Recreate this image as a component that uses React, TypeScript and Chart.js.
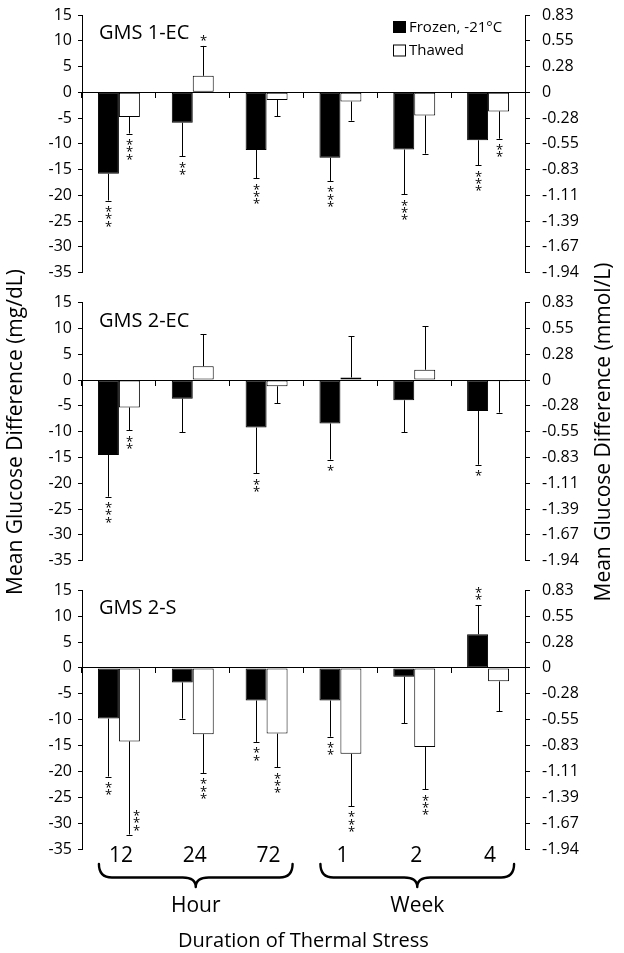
import React, { useEffect, useRef } from 'react';
import { Chart, registerables } from 'chart.js';

Chart.register(...registerables);

// ---------- data ----------
const categories = ['12', '24', '72', '1', '2', '4'];
const groupLabels = ['Hour', 'Week'];
const groupFirst = [0, 3];
const groupLast = [2, 5];
const seriesNames = ['Frozen, -21°C', 'Thawed'];
const panelTitles = ['GMS 1-EC', 'GMS 2-EC', 'GMS 2-S'];
const yTickValues = [15, 10, 5, 0, -5, -10, -15, -20, -25, -30, -35];
const mmolTickLabels = ['0.83', '0.55', '0.28', '0', '-0.28', '-0.55', '-0.83', '-1.11', '-1.39', '-1.67', '-1.94'];
const leftTitle = 'Mean Glucose Difference (mg/dL)';
const rightTitle = 'Mean Glucose Difference (mmol/L)';
const xTitle = 'Duration of Thermal Stress';

const gms1FrozenMean = [-15.8, -5.9, -11.2, -12.7, -11.1, -9.3];
const gms1FrozenSd = [5.2, 6.5, 5.5, 4.5, 8.7, 4.9];
const gms1FrozenSig = ['***', '**', '***', '***', '***', '***'];
const gms1ThawedMean = [-4.8, 3.2, -1.5, -1.8, -4.5, -3.7];
const gms1ThawedSd = [3.2, 5.8, 3.1, 3.7, 7.4, 5.3];
const gms1ThawedSig = ['***', '*', '', '', '', '**'];

const gms2ecFrozenMean = [-14.5, -3.6, -9.2, -8.4, -3.9, -6.0];
const gms2ecFrozenSd = [8.1, 6.5, 8.9, 7.0, 6.2, 10.4];
const gms2ecFrozenSig = ['***', '', '**', '*', '', '*'];
const gms2ecThawedMean = [-5.3, 2.7, -1.2, 0.5, 2.0, -0.2];
const gms2ecThawedSd = [4.4, 6.2, 3.3, 8.0, 8.4, 6.1];
const gms2ecThawedSig = ['**', '', '', '', '', ''];

const gms2sFrozenMean = [-9.8, -2.8, -6.3, -6.3, -1.7, 6.5];
const gms2sFrozenSd = [11.2, 7.0, 8.0, 7.0, 9.0, 5.6];
const gms2sFrozenSig = ['**', '', '**', '**', '', '**'];
const gms2sThawedMean = [-14.2, -12.8, -12.7, -16.6, -15.3, -2.6];
const gms2sThawedSd = [18.0, 7.5, 6.5, 10.1, 8.2, 5.8];
const gms2sThawedSig = ['***', '***', '***', '***', '***', ''];

const panelFrozen = [
  [gms1FrozenMean, gms1FrozenSd, gms1FrozenSig],
  [gms2ecFrozenMean, gms2ecFrozenSd, gms2ecFrozenSig],
  [gms2sFrozenMean, gms2sFrozenSd, gms2sFrozenSig],
];
const panelThawed = [
  [gms1ThawedMean, gms1ThawedSd, gms1ThawedSig],
  [gms2ecThawedMean, gms2ecThawedSd, gms2ecThawedSig],
  [gms2sThawedMean, gms2sThawedSd, gms2sThawedSig],
];

// ---------- layout ----------
const W = 624;
const H = 953;
const FONT = '"Open Sans", "Noto Sans", sans-serif';
const plotTops = [15, 302.7, 590.3];
const plotBottoms = [272.7, 560.7, 849];

const errPlugin = {
  id: 'errbars',
  afterDatasetsDraw(chart: any) {
    const ctx = chart.ctx;
    const ys = chart.scales.y;
    const ca = chart.chartArea;
    chart.data.datasets.forEach((ds: any, i: number) => {
      const meta = chart.getDatasetMeta(i);
      meta.data.forEach((bar: any, j: number) => {
        const v = ds.data[j];
        const sd = ds.sd[j];
        const dir = v >= 0 ? 1 : -1;
        const yEnd = ys.getPixelForValue(v + dir * sd);
        const x = Math.round(bar.x) + 0.5;
        ctx.save();
        ctx.strokeStyle = '#000';
        ctx.lineWidth = 1;
        ctx.beginPath();
        ctx.moveTo(x, bar.y);
        ctx.lineTo(x, yEnd);
        ctx.moveTo(x - 3, Math.round(yEnd) + 0.5);
        ctx.lineTo(x + 3, Math.round(yEnd) + 0.5);
        ctx.stroke();
        const s: string = ds.sig[j];
        ctx.font = `13px ${FONT}`;
        ctx.fillStyle = '#000';
        ctx.textAlign = 'center';
        ctx.textBaseline = 'alphabetic';
        const m = ctx.measureText('*');
        const off = (m.actualBoundingBoxAscent - m.actualBoundingBoxDescent) / 2;
        const n = s.length;
        const extent = yEnd - dir * (8.4 + (n - 1) * 7.3 + 3.5);
        const beside = n > 0 && (extent > ca.bottom || extent < ca.top - 20);
        for (let k = 0; k < n; k++) {
          if (beside) {
            const cy = yEnd + dir * (7 + (n - 1 - k) * 7.3);
            ctx.fillText('*', x + 7, cy + off);
          } else {
            const cy = yEnd - dir * (8.4 + k * 7.3);
            ctx.fillText('*', x, cy + off);
          }
        }
        ctx.restore();
      });
    });
  },
};

function makeDecor(p: number) {
  return {
    id: 'decor' + p,
    afterDraw(chart: any) {
      const ctx = chart.ctx;
      const ca = chart.chartArea;
      ctx.save();
      ctx.fillStyle = '#000';
      ctx.strokeStyle = '#000';
      // panel title
      ctx.font = `20px ${FONT}`;
      ctx.textAlign = 'left';
      ctx.textBaseline = 'alphabetic';
      ctx.fillText(panelTitles[p], ca.left + 17, ca.top + 24);

      if (p === 0) {
        // legend
        ctx.font = `15px ${FONT}`;
        chart.data.datasets.forEach((ds: any, i: number) => {
          const by = ca.top + 6 + i * 23.5;
          const bx = ca.right - 132;
          ctx.fillStyle = ds.backgroundColor;
          ctx.fillRect(bx, by, 13, 12);
          ctx.lineWidth = 1;
          ctx.strokeStyle = '#000';
          ctx.strokeRect(bx + 0.5, by + 0.5, 12, 11);
          ctx.fillStyle = '#000';
          ctx.textBaseline = 'middle';
          ctx.fillText(ds.label, bx + 16, by + 6.5);
        });
      }

      if (p === 1) {
        ctx.font = `21px ${FONT}`;
        ctx.textAlign = 'center';
        ctx.textBaseline = 'alphabetic';
        ctx.save();
        ctx.translate(21.7, 432);
        ctx.rotate(-Math.PI / 2);
        ctx.fillText(leftTitle, 0, 0);
        ctx.restore();
        ctx.save();
        ctx.translate(610, 432);
        ctx.rotate(-Math.PI / 2);
        ctx.fillText(rightTitle, 0, 0);
        ctx.restore();
      }

      if (p === 2) {
        const xs = chart.scales.x;
        ctx.textAlign = 'center';
        ctx.textBaseline = 'alphabetic';
        ctx.font = `21px ${FONT}`;
        categories.forEach((c, i) => {
          ctx.fillText(c, xs.getPixelForValue(i) + 2, ca.bottom + 12.7);
        });
        // braces
        ctx.lineWidth = 2.4;
        ctx.lineJoin = 'round';
        ctx.lineCap = 'round';
        groupLabels.forEach((g, gi) => {
          const x1 = xs.getPixelForValue(groupFirst[gi]) - 20;
          const x2 = xs.getPixelForValue(groupLast[gi]) + 26;
          const xm = (x1 + x2) / 2;
          const yT = ca.bottom + 15;
          const yM = ca.bottom + 28.5;
          const yB = ca.bottom + 38;
          const r = 13;
          ctx.beginPath();
          ctx.moveTo(x1, yT);
          ctx.quadraticCurveTo(x1, yM, x1 + r, yM);
          ctx.lineTo(xm - r, yM);
          ctx.quadraticCurveTo(xm, yM, xm, yB);
          ctx.quadraticCurveTo(xm, yM, xm + r, yM);
          ctx.lineTo(x2 - r, yM);
          ctx.quadraticCurveTo(x2, yM, x2, yT);
          ctx.stroke();
          ctx.fillText(g, xm, ca.bottom + 62.7);
        });
        ctx.font = `20px ${FONT}`;
        ctx.fillText(xTitle, (ca.left + ca.right) / 2, ca.bottom + 97.7);
      }
      ctx.restore();
    },
  };
}

function makeConfig(p: number): any {
  const fr = panelFrozen[p];
  const th = panelThawed[p];
  const tickFont = { family: FONT, size: 16 };
  return {
    type: 'bar',
    data: {
      labels: categories,
      datasets: [
        {
          label: seriesNames[0],
          data: fr[0],
          sd: fr[1],
          sig: fr[2],
          backgroundColor: '#000000',
          borderColor: '#000000',
          borderWidth: 1,
          borderSkipped: false,
          categoryPercentage: 0.568,
          barPercentage: 1,
        },
        {
          label: seriesNames[1],
          data: th[0],
          sd: th[1],
          sig: th[2],
          backgroundColor: '#ffffff',
          borderColor: '#000000',
          borderWidth: 1,
          borderSkipped: false,
          categoryPercentage: 0.568,
          barPercentage: 1,
        },
      ],
    },
    options: {
      responsive: false,
      animation: false,
      events: [],
      layout: { padding: { top: plotTops[p], bottom: H - plotBottoms[p], left: 0, right: 0 } },
      plugins: { legend: { display: false }, tooltip: { enabled: false } },
      scales: {
        x: {
          type: 'category',
          position: { y: 0 },
          offset: true,
          grid: { offset: true, drawOnChartArea: false, drawTicks: true, tickLength: 5, color: '#000', lineWidth: 1 },
          border: { display: true, color: '#000', width: 1 },
          ticks: { display: false },
        },
        y: {
          position: 'left',
          min: -35,
          max: 15,
          afterBuildTicks: (s: any) => {
            s.ticks = yTickValues.map((v) => ({ value: v }));
          },
          ticks: { font: tickFont, color: '#000', padding: 6 },
          grid: { drawOnChartArea: false, tickLength: 4, color: '#000' },
          border: { color: '#000', width: 1 },
          afterFit: (s: any) => {
            s.width = 82;
            s.paddingTop = 0;
            s.paddingBottom = 0;
          },
        },
        y2: {
          position: 'right',
          min: -35,
          max: 15,
          afterBuildTicks: (s: any) => {
            s.ticks = yTickValues.map((v) => ({ value: v }));
          },
          ticks: {
            font: tickFont,
            color: '#000',
            padding: 12,
            callback: (v: number) => mmolTickLabels[yTickValues.indexOf(v)],
          },
          grid: { drawOnChartArea: false, tickLength: 5, color: '#000' },
          border: { color: '#000', width: 1 },
          afterFit: (s: any) => {
            s.width = 99;
            s.paddingTop = 0;
            s.paddingBottom = 0;
          },
        },
      },
    },
    plugins: [errPlugin, makeDecor(p)],
  };
}

export default function App() {
  const refs = useRef<(HTMLCanvasElement | null)[]>([]);
  useEffect(() => {
    const charts = [0, 1, 2].map((p) => new Chart(refs.current[p] as HTMLCanvasElement, makeConfig(p)));
    return () => charts.forEach((c) => c.destroy());
  }, []);
  return (
    <div style={{ position: 'fixed', left: 0, top: 0, width: W, height: H, background: '#fff' }}>
      {[0, 1, 2].map((p) => (
        <canvas
          key={p}
          ref={(el) => {
            refs.current[p] = el;
          }}
          width={W}
          height={H}
          style={{ position: 'absolute', left: 0, top: 0, width: W, height: H }}
        />
      ))}
    </div>
  );
}
